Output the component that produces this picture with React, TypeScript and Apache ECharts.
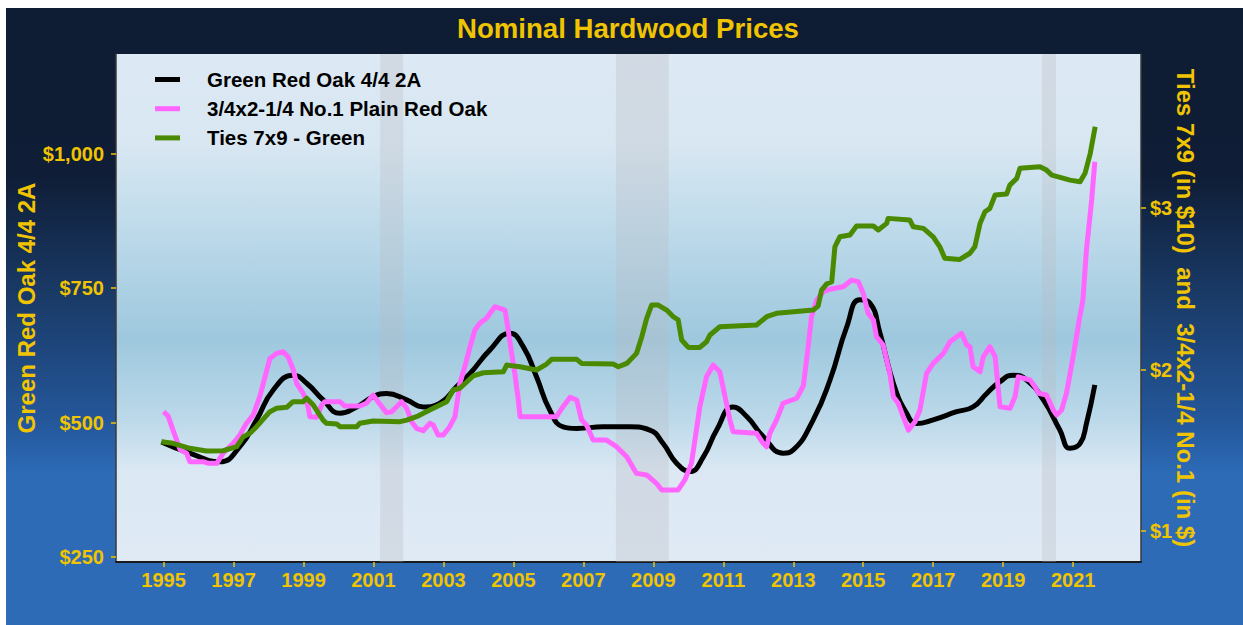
import React, { useEffect, useRef } from "react";
import * as echarts from "echarts";

const FONT = "'Liberation Sans', Arial, Helvetica, sans-serif";
const GOLD = "#f0c400";

const seriesNames = ["Green Red Oak 4/4 2A", "3/4x2-1/4 No.1 Plain Red Oak", "Ties 7x9 - Green"];
const seriesColors = ["#000000", "#ff66ff", "#4a8a00"];

const yearTicks = [1995, 1997, 1999, 2001, 2003, 2005, 2007, 2009, 2011, 2013, 2015, 2017, 2019, 2021];
const leftTicks = [250, 500, 750, 1000];
const rightTicks = [1, 2, 3];

const recessions = [
  [2001.19, 2001.85],
  [2007.93, 2009.44],
  [2020.11, 2020.51],
];

const oakYears = [1994.94, 1995.75, 1996.61, 1997.18, 1997.66, 1998.13, 1998.71, 1999.09, 1999.56, 2000.04, 2000.52, 2000.99, 2001.37, 2001.95, 2002.42, 2002.9, 2003.38, 2003.76, 2004.33, 2004.9, 2005.28, 2005.66, 2006.04, 2006.42, 2006.81, 2007.57, 2008.33, 2008.9, 2009.28, 2009.67, 2010.05, 2010.43, 2010.81, 2011.28, 2011.67, 2012.14, 2012.71, 2013.0, 2013.57, 2014.05, 2014.53, 2014.9, 2015.19, 2015.48, 2015.86, 2016.24, 2016.53, 2017.0, 2017.67, 2018.14, 2018.53, 2018.91, 2019.29, 2019.67, 2020.15, 2020.62, 2020.91, 2021.2, 2021.38, 2021.62];
const oakValues = [464, 443, 427, 455, 505, 560, 588, 573, 542, 517, 529, 548, 554, 542, 529, 536, 567, 591, 635, 666, 641, 585, 523, 492, 489, 492, 492, 486, 461, 424, 409, 436, 486, 529, 511, 474, 443, 449, 505, 579, 678, 728, 722, 666, 573, 517, 498, 505, 520, 529, 554, 576, 588, 579, 542, 486, 452, 461, 498, 570];

const plainYears = [1995.0, 1995.13, 1995.27, 1995.47, 1995.66, 1995.75, 1996.13, 1996.28, 1996.52, 1996.7, 1996.99, 1997.18, 1997.37, 1997.56, 1997.75, 1997.9, 1998.04, 1998.23, 1998.42, 1998.56, 1998.71, 1998.8, 1998.99, 1999.13, 1999.18, 1999.37, 1999.52, 1999.61, 2000.04, 2000.18, 2000.61, 2000.8, 2000.99, 2001.13, 2001.37, 2001.52, 2001.8, 2001.95, 2002.09, 2002.23, 2002.42, 2002.61, 2002.71, 2002.85, 2002.99, 2003.18, 2003.33, 2003.47, 2003.61, 2003.76, 2003.9, 2004.04, 2004.23, 2004.47, 2004.76, 2004.85, 2004.95, 2005.04, 2005.14, 2005.19, 2006.23, 2006.42, 2006.62, 2006.81, 2006.95, 2007.09, 2007.28, 2007.66, 2007.95, 2008.24, 2008.43, 2008.52, 2008.81, 2009.09, 2009.24, 2009.71, 2009.9, 2010.09, 2010.33, 2010.52, 2010.71, 2010.9, 2011.05, 2011.19, 2011.28, 2011.95, 2012.14, 2012.24, 2012.33, 2012.52, 2012.71, 2013.1, 2013.29, 2013.43, 2013.52, 2013.67, 2013.86, 2014.05, 2014.43, 2014.67, 2014.86, 2015.0, 2015.14, 2015.29, 2015.38, 2015.57, 2015.76, 2015.86, 2016.0, 2016.29, 2016.48, 2016.62, 2016.81, 2017.0, 2017.29, 2017.48, 2017.81, 2017.96, 2018.05, 2018.14, 2018.34, 2018.43, 2018.62, 2018.77, 2018.91, 2019.2, 2019.34, 2019.43, 2019.77, 2019.91, 2020.01, 2020.24, 2020.43, 2020.53, 2020.67, 2020.81, 2021.0, 2021.19, 2021.28, 2021.38, 2021.53, 2021.62];
const plainValues = [1.739, 1.712, 1.625, 1.506, 1.481, 1.429, 1.429, 1.419, 1.419, 1.481, 1.543, 1.594, 1.667, 1.718, 1.832, 1.955, 2.069, 2.1, 2.11, 2.079, 1.997, 1.915, 1.853, 1.77, 1.708, 1.704, 1.78, 1.801, 1.801, 1.774, 1.774, 1.791, 1.842, 1.801, 1.733, 1.739, 1.801, 1.76, 1.677, 1.636, 1.621, 1.667, 1.656, 1.594, 1.594, 1.646, 1.708, 1.915, 2.017, 2.141, 2.245, 2.286, 2.317, 2.389, 2.368, 2.245, 2.1, 1.976, 1.811, 1.708, 1.708, 1.77, 1.828, 1.811, 1.687, 1.656, 1.563, 1.563, 1.522, 1.46, 1.388, 1.357, 1.347, 1.295, 1.254, 1.254, 1.316, 1.419, 1.77, 1.955, 2.028, 1.986, 1.832, 1.687, 1.615, 1.605, 1.543, 1.522, 1.605, 1.687, 1.791, 1.822, 1.9, 2.15, 2.327, 2.43, 2.482, 2.497, 2.513, 2.554, 2.544, 2.472, 2.348, 2.307, 2.203, 2.152, 1.976, 1.832, 1.791, 1.625, 1.677, 1.749, 1.976, 2.038, 2.1, 2.172, 2.224, 2.152, 2.141, 2.017, 1.986, 2.079, 2.141, 2.079, 1.77, 1.76, 1.832, 1.955, 1.935, 1.894, 1.853, 1.842, 1.749, 1.718, 1.749, 1.853, 2.079, 2.327, 2.43, 2.74, 3.05, 3.287];

const tieYears = [1994.94, 1995.27, 1995.75, 1996.23, 1996.7, 1997.09, 1997.28, 1997.47, 1997.66, 1998.04, 1998.23, 1998.52, 1998.7, 1998.99, 1999.09, 1999.28, 1999.56, 1999.66, 1999.95, 2000.04, 2000.52, 2000.61, 2000.99, 2001.76, 2001.95, 2002.23, 2002.61, 2003.09, 2003.28, 2003.47, 2003.85, 2004.14, 2004.71, 2004.81, 2005.19, 2005.66, 2005.95, 2006.09, 2006.81, 2006.95, 2007.85, 2008.0, 2008.24, 2008.52, 2008.67, 2008.81, 2008.95, 2009.14, 2009.38, 2009.57, 2009.71, 2009.81, 2010.0, 2010.33, 2010.52, 2010.62, 2010.9, 2011.95, 2012.24, 2012.52, 2013.57, 2013.71, 2013.81, 2013.95, 2014.1, 2014.19, 2014.33, 2014.62, 2014.81, 2015.29, 2015.43, 2015.67, 2015.71, 2016.33, 2016.43, 2016.72, 2017.0, 2017.19, 2017.33, 2017.76, 2018.05, 2018.19, 2018.34, 2018.48, 2018.62, 2018.77, 2019.1, 2019.19, 2019.39, 2019.48, 2020.05, 2020.24, 2020.39, 2020.63, 2020.91, 2021.2, 2021.34, 2021.49, 2021.63];
const tieValues = [1.553, 1.543, 1.512, 1.495, 1.497, 1.522, 1.584, 1.605, 1.646, 1.739, 1.76, 1.766, 1.801, 1.801, 1.822, 1.78, 1.687, 1.667, 1.663, 1.646, 1.646, 1.667, 1.681, 1.677, 1.687, 1.708, 1.749, 1.801, 1.873, 1.884, 1.96, 1.98, 1.986, 2.028, 2.017, 1.997, 2.034, 2.063, 2.063, 2.038, 2.034, 2.017, 2.038, 2.1, 2.203, 2.317, 2.399, 2.399, 2.368, 2.327, 2.307, 2.183, 2.137, 2.137, 2.172, 2.214, 2.265, 2.276, 2.327, 2.348, 2.368, 2.393, 2.492, 2.529, 2.544, 2.76, 2.822, 2.833, 2.889, 2.889, 2.864, 2.905, 2.936, 2.926, 2.884, 2.874, 2.822, 2.76, 2.689, 2.682, 2.72, 2.76, 2.905, 2.977, 2.998, 3.081, 3.087, 3.142, 3.184, 3.246, 3.256, 3.235, 3.204, 3.19, 3.173, 3.163, 3.215, 3.339, 3.503];

const zip = (xs: number[], ys: number[]) => xs.map((x, i) => [x, ys[i]]);

export default function App() {
  const ref = useRef<HTMLDivElement>(null);
  useEffect(() => {
    if (!ref.current) return;
    const chart = echarts.init(ref.current, undefined, { renderer: "svg" });
    const bg = new echarts.graphic.LinearGradient(0, 0, 0, 1, [
      { offset: 0, color: "#0e1c33" },
      { offset: 0.27, color: "#0f1d36" },
      { offset: 0.47, color: "#1a3b68" },
      { offset: 0.67, color: "#24579a" },
      { offset: 0.755, color: "#2d6bb7" },
      { offset: 1, color: "#2d6bb7" },
    ]);
    const plotBg = new echarts.graphic.LinearGradient(0, 0, 0, 1, [
      { offset: 0, color: "#dde9f4" },
      { offset: 0.18, color: "#d8e7f2" },
      { offset: 0.35, color: "#bddaea" },
      { offset: 0.56, color: "#9ec8de" },
      { offset: 0.72, color: "#bcd9ea" },
      { offset: 0.82, color: "#dbe8f4" },
      { offset: 1, color: "#dfeaf5" },
    ]);
    const axisLabel = { color: GOLD, fontSize: 20, fontWeight: "bold" as const, fontFamily: FONT };
    const nameStyle = { color: GOLD, fontSize: 24, fontWeight: "bold" as const, fontFamily: FONT };
    chart.setOption({
      animation: false,
      backgroundColor: bg,
      title: {
        text: "Nominal Hardwood Prices",
        left: 617,
        top: 1,
        textAlign: "center",
        textStyle: { color: GOLD, fontSize: 27.6, fontWeight: "bold", fontFamily: FONT },
      },
      legend: {
        orient: "vertical",
        left: 144,
        top: 56,
        itemWidth: 25,
        itemHeight: 5,
        itemGap: 8.2,
        data: seriesNames.map((n) => ({ name: n, icon: "rect" })),
        textStyle: {
          color: "#000",
          fontSize: 20.5,
          lineHeight: 20.5,
          fontWeight: "bold",
          fontFamily: FONT,
          padding: [0, 0, 0, 22],
        },
      },
      grid: {
        left: 110,
        top: 46,
        right: 102,
        bottom: 63,
        show: true,
        containLabel: false,
        outerBoundsMode: "none",
        backgroundColor: plotBg,
        borderWidth: 0,
      },
      xAxis: {
        type: "value",
        min: 1993.64,
        max: 2022.94,
        splitLine: { show: false },
        axisLine: { show: true, lineStyle: { color: "#1b1b1b", width: 2 } },
        axisTick: { show: true, length: 5, lineStyle: { color: GOLD, width: 1.5 }, customValues: yearTicks },
        axisLabel: { ...axisLabel, margin: 8, customValues: yearTicks, formatter: (v: number) => String(Math.round(v)) },
      },
      yAxis: [
        {
          type: "value",
          min: 240.7,
          max: 1185,
          position: "left",
          name: "Green Red Oak 4/4 2A",
          nameLocation: "middle",
          nameRotate: 90,
          nameGap: 78,
          nameMoveOverlap: false,
          nameTextStyle: nameStyle,
          splitLine: { show: false },
          axisLine: { show: true, lineStyle: { color: "#3a3a3a", width: 1.5 } },
          axisTick: { show: true, length: 5, lineStyle: { color: GOLD, width: 1.5 }, customValues: leftTicks },
          axisLabel: {
            ...axisLabel,
            margin: 12,
            customValues: leftTicks,
            formatter: (v: number) => "$" + Math.round(v).toLocaleString("en-US"),
          },
        },
        {
          type: "value",
          min: 0.808,
          max: 3.954,
          position: "right",
          name: "Ties 7x9 (in $10)  and  3/4x2-1/4 No.1 (in $)",
          nameLocation: "middle",
          nameRotate: -90,
          nameGap: 32,
          nameMoveOverlap: false,
          nameTextStyle: nameStyle,
          splitLine: { show: false },
          axisLine: { show: true, lineStyle: { color: "#3a3a3a", width: 1.5 } },
          axisTick: { show: true, length: 5, lineStyle: { color: GOLD, width: 1.5 }, customValues: rightTicks },
          axisLabel: {
            ...axisLabel,
            margin: 9,
            customValues: rightTicks,
            formatter: (v: number) => "$" + Math.round(v),
          },
        },
      ],
      series: [
        {
          name: "recessions",
          type: "line",
          data: [],
          z: 1,
          silent: true,
          markArea: {
            silent: true,
            itemStyle: { color: "rgba(185,185,192,0.3)" },
            data: recessions.map(([a, b]) => [{ xAxis: a }, { xAxis: b }]),
          },
        },
        {
          name: seriesNames[0],
          type: "line",
          yAxisIndex: 0,
          data: zip(oakYears, oakValues),
          showSymbol: false,
          smooth: 0.5,
          z: 3,
          itemStyle: { color: seriesColors[0] },
          lineStyle: { color: seriesColors[0], width: 5, join: "round" },
        },
        {
          name: seriesNames[1],
          type: "line",
          yAxisIndex: 1,
          data: zip(plainYears, plainValues),
          showSymbol: false,
          z: 4,
          itemStyle: { color: seriesColors[1] },
          lineStyle: { color: seriesColors[1], width: 5, join: "round" },
        },
        {
          name: seriesNames[2],
          type: "line",
          yAxisIndex: 1,
          data: zip(tieYears, tieValues),
          showSymbol: false,
          z: 5,
          itemStyle: { color: seriesColors[2] },
          lineStyle: { color: seriesColors[2], width: 5, join: "round" },
        },
      ],
    });
    return () => chart.dispose();
  }, []);
  return (
    <div
      ref={ref}
      style={{ position: "absolute", left: 6, top: 8, width: 1237, height: 617 }}
    />
  );
}
